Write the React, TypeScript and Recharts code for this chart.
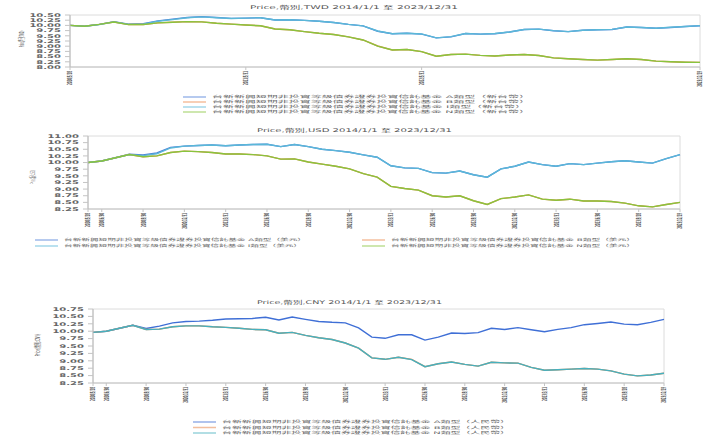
import React from "react";
import { LineChart, Line, XAxis, YAxis, ReferenceArea, Legend } from "recharts";

const dates = [
  "2020/5/28", "2020/6/30", "2020/7/31", "2020/8/31", "2020/9/30", "2020/10/30", "2020/11/30", "2020/12/31",
  "2021/1/29", "2021/2/26", "2021/3/31", "2021/4/30", "2021/5/31", "2021/6/30", "2021/7/30", "2021/8/31",
  "2021/9/30", "2021/10/29", "2021/11/30", "2021/12/30", "2022/1/28", "2022/2/25", "2022/3/31", "2022/4/29",
  "2022/5/31", "2022/6/30", "2022/7/29", "2022/8/31", "2022/9/30", "2022/10/31", "2022/11/30", "2022/12/30",
  "2023/1/31", "2023/2/24", "2023/3/31", "2023/4/28", "2023/5/31", "2023/6/30", "2023/7/31", "2023/8/31",
  "2023/9/28", "2023/10/31", "2023/11/30", "2023/12/29"
];

// 新台幣
const twdA = [10.00, 9.96, 10.05, 10.18, 10.06, 10.08, 10.22, 10.30, 10.38, 10.42, 10.38, 10.34, 10.35, 10.37, 10.26, 10.27, 10.24, 10.20, 10.14, 10.05, 9.98, 9.72, 9.60, 9.62, 9.58, 9.40, 9.45, 9.61, 9.58, 9.60, 9.68, 9.80, 9.82, 9.74, 9.70, 9.77, 9.79, 9.80, 9.92, 9.90, 9.86, 9.90, 9.95, 9.98];
const twdB = [10.00, 9.96, 10.05, 10.16, 10.04, 10.04, 10.12, 10.15, 10.18, 10.17, 10.10, 10.06, 10.02, 9.98, 9.83, 9.79, 9.70, 9.62, 9.56, 9.45, 9.30, 9.01, 8.82, 8.84, 8.74, 8.52, 8.60, 8.62, 8.56, 8.53, 8.58, 8.60, 8.55, 8.44, 8.40, 8.36, 8.33, 8.36, 8.40, 8.36, 8.28, 8.25, 8.23, 8.22];
const twdI = [10.00, 9.96, 10.04, 10.17, 10.05, 10.06, 10.20, 10.28, 10.37, 10.41, 10.37, 10.33, 10.35, 10.37, 10.26, 10.27, 10.24, 10.20, 10.14, 10.05, 9.98, 9.73, 9.60, 9.62, 9.59, 9.40, 9.46, 9.61, 9.58, 9.61, 9.68, 9.80, 9.82, 9.75, 9.70, 9.77, 9.79, 9.81, 9.92, 9.90, 9.86, 9.91, 9.95, 9.99];
const twdN = [10.00, 9.96, 10.05, 10.16, 10.04, 10.04, 10.12, 10.15, 10.18, 10.17, 10.10, 10.06, 10.02, 9.98, 9.83, 9.79, 9.70, 9.62, 9.56, 9.45, 9.30, 9.00, 8.82, 8.84, 8.74, 8.52, 8.60, 8.62, 8.56, 8.53, 8.58, 8.60, 8.55, 8.44, 8.40, 8.36, 8.33, 8.36, 8.40, 8.36, 8.28, 8.25, 8.23, 8.22];

// 美元
const usdA = [10.00, 10.06, 10.18, 10.31, 10.29, 10.36, 10.57, 10.62, 10.64, 10.66, 10.63, 10.66, 10.68, 10.69, 10.60, 10.68, 10.60, 10.50, 10.45, 10.39, 10.29, 10.20, 9.88, 9.80, 9.78, 9.62, 9.60, 9.68, 9.54, 9.45, 9.76, 9.86, 10.02, 9.92, 9.86, 9.96, 9.92, 9.98, 10.03, 10.07, 10.02, 9.98, 10.15, 10.30];
const usdB = [10.00, 10.06, 10.18, 10.30, 10.22, 10.25, 10.38, 10.43, 10.41, 10.38, 10.32, 10.32, 10.30, 10.25, 10.13, 10.14, 10.02, 9.94, 9.86, 9.76, 9.58, 9.45, 9.10, 9.02, 8.96, 8.75, 8.70, 8.75, 8.56, 8.42, 8.64, 8.70, 8.78, 8.62, 8.58, 8.62, 8.55, 8.55, 8.53, 8.47, 8.37, 8.33, 8.42, 8.50];
const usdI = [10.00, 10.06, 10.18, 10.30, 10.26, 10.33, 10.55, 10.62, 10.64, 10.66, 10.63, 10.66, 10.68, 10.69, 10.60, 10.68, 10.60, 10.50, 10.45, 10.39, 10.29, 10.20, 9.88, 9.80, 9.78, 9.62, 9.60, 9.68, 9.54, 9.45, 9.76, 9.86, 10.02, 9.92, 9.86, 9.96, 9.92, 9.98, 10.03, 10.07, 10.02, 9.98, 10.15, 10.30];
const usdN = [10.00, 10.06, 10.18, 10.30, 10.22, 10.25, 10.38, 10.43, 10.41, 10.38, 10.32, 10.32, 10.30, 10.25, 10.13, 10.14, 10.02, 9.94, 9.86, 9.76, 9.58, 9.45, 9.10, 9.02, 8.96, 8.75, 8.70, 8.75, 8.56, 8.42, 8.64, 8.70, 8.78, 8.62, 8.58, 8.62, 8.55, 8.55, 8.53, 8.47, 8.37, 8.33, 8.42, 8.50];

// 人民幣
const cnyA = [9.96, 10.00, 10.10, 10.20, 10.09, 10.17, 10.28, 10.33, 10.34, 10.37, 10.41, 10.42, 10.43, 10.47, 10.38, 10.48, 10.40, 10.33, 10.30, 10.28, 10.11, 9.80, 9.76, 9.88, 9.88, 9.70, 9.80, 9.94, 9.92, 9.95, 10.10, 10.06, 10.12, 10.05, 9.98, 10.06, 10.12, 10.22, 10.26, 10.31, 10.24, 10.22, 10.30, 10.40];
const cnyB = [9.96, 10.00, 10.10, 10.20, 10.06, 10.07, 10.15, 10.18, 10.18, 10.15, 10.13, 10.10, 10.06, 10.05, 9.93, 9.96, 9.86, 9.78, 9.72, 9.60, 9.43, 9.10, 9.05, 9.12, 9.05, 8.80, 8.90, 8.96, 8.88, 8.82, 8.95, 8.93, 8.92, 8.78, 8.68, 8.70, 8.72, 8.74, 8.72, 8.66, 8.55, 8.49, 8.52, 8.58];
const cnyN = [9.96, 10.00, 10.10, 10.20, 10.06, 10.07, 10.15, 10.18, 10.18, 10.15, 10.13, 10.10, 10.06, 10.05, 9.93, 9.96, 9.86, 9.78, 9.72, 9.60, 9.43, 9.10, 9.05, 9.12, 9.04, 8.80, 8.90, 8.96, 8.88, 8.82, 8.95, 8.93, 8.92, 8.78, 8.68, 8.70, 8.72, 8.74, 8.72, 8.66, 8.55, 8.49, 8.52, 8.58];

const twdXTicks = ["2020/5/28", "2021/5/31", "2022/5/31", "2023/12/29"];
const quarterXTicks = [
  "2020/5/28", "2020/6/30", "2020/9/30", "2020/12/31", "2021/3/31", "2021/6/30", "2021/9/30", "2021/12/30",
  "2022/3/31", "2022/6/30", "2022/9/30", "2022/12/30", "2023/3/31", "2023/6/30", "2023/9/28", "2023/12/29"
];
const twdYTicks = [8.0, 8.25, 8.5, 8.75, 9.0, 9.25, 9.5, 9.75, 10.0, 10.25, 10.5];
const usdYTicks = [8.25, 8.5, 8.75, 9.0, 9.25, 9.5, 9.75, 10.0, 10.25, 10.5, 10.75, 11.0];
const cnyYTicks = [8.25, 8.5, 8.75, 9.0, 9.25, 9.5, 9.75, 10.0, 10.25, 10.5, 10.75];

const fundName = "台新新興短期非投資等級債券證券投資信託基金";
const FONT = "'DejaVu Sans', 'Noto Sans CJK TC', sans-serif";

const twdData = dates.map((date, i) => ({ date, A: twdA[i], B: twdB[i], I: twdI[i], N: twdN[i] }));
const usdData = dates.map((date, i) => ({ date, A: usdA[i], B: usdB[i], I: usdI[i], N: usdN[i] }));
const cnyData = dates.map((date, i) => ({ date, A: cnyA[i], B: cnyB[i], N: cnyN[i] }));

const C = { A: "#4f7fd8", B: "#ec8a4e", I: "#5ab8d8", N: "#88c43e" };

type Item = { name: string; color: string; x: number; y: number; w: number };

// text squashed vertically, like the stretched source image
function Squash({ x, y, text, size, sy = 1, anchor = "start", rotate = false, fill = "#555", len, weight }: any) {
  const t = `translate(${x},${y}) scale(1,${sy})${rotate ? " rotate(-90)" : ""}`;
  return (
    <text
      transform={t}
      fontSize={size}
      fontFamily={FONT}
      textAnchor={anchor}
      fill={fill}
      fontWeight={weight}
      dy="0.35em"
      textLength={len}
      lengthAdjust={len ? "spacingAndGlyphs" : undefined}
    >
      {text}
    </text>
  );
}

const YTick = (props: any) => (
  <Squash x={props.x} y={props.y} text={Number(props.payload.value).toFixed(2)} size={10} sy={0.5} anchor="end" fill="#666" weight={600} />
);

const XTick = (props: any) => {
  const s = String(props.payload.value);
  return <Squash x={props.x} y={props.y} text={s} size={7} sy={0.36} anchor="end" rotate fill="#555" weight={600} />;
};

function LegendBox({ items, h }: { items: Item[]; h: number }) {
  return (
    <svg width={715} height={h} style={{ display: "block", overflow: "visible" }}>
      {items.map((it) => (
        <g key={it.name}>
          <line x1={it.x} x2={it.x + 23} y1={it.y} y2={it.y} stroke={it.color} strokeWidth={1.5} strokeOpacity={0.55} />
          <Squash x={it.x + 29} y={it.y} text={it.name} size={8} sy={0.45} fill="#666" len={it.w} />
        </g>
      ))}
    </svg>
  );
}

function Panel({ data, keys, colors, yDomain, yTicks, xTicks, top, height, margin, xHeight, legendItems, legendTop, legendH }: any) {
  return (
    <div style={{ position: "absolute", left: 0, top, width: 715, height }}>
      <LineChart width={715} height={height} data={data} margin={margin}>
        <XAxis
          dataKey="date"
          ticks={xTicks}
          interval={0}
          tick={<XTick />}
          tickSize={3}
          tickMargin={1}
          height={xHeight}
          axisLine={{ stroke: "#c4c4c4" }}
          tickLine={{ stroke: "#c4c4c4" }}
        />
        <YAxis
          type="number"
          domain={yDomain}
          ticks={yTicks}
          interval={0}
          tick={<YTick />}
          tickSize={5}
          tickMargin={4}
          width={40}
          axisLine={{ stroke: "#b8b8b8" }}
          tickLine={{ stroke: "#c4c4c4" }}
        />
        <ReferenceArea x1={dates[0]} x2={dates[dates.length - 1]} y1={yDomain[0]} y2={yDomain[1]} fill="none" stroke="#dcdcdc" />
        {keys.map((k: string) => (
          <Line key={k} type="linear" dataKey={k} stroke={colors[k]} strokeWidth={1.4} dot={false} isAnimationActive={false} />
        ))}
        <Legend
          layout="horizontal"
          verticalAlign="middle"
          align="center"
          wrapperStyle={{ left: 0, top: legendTop, width: 715, height: legendH }}
          content={() => <LegendBox items={legendItems} h={legendH} />}
        />
      </LineChart>
    </div>
  );
}

const twdLegend: Item[] = [
  { name: `${fundName} A類型（新台幣）`, color: C.A, x: 183, y: 7, w: 318 },
  { name: `${fundName} B類型（新台幣）`, color: C.B, x: 183, y: 12, w: 318 },
  { name: `${fundName} I類型（新台幣）`, color: C.I, x: 183, y: 17, w: 314 },
  { name: `${fundName} N類型（新台幣）`, color: C.N, x: 183, y: 22, w: 318 }
];
const usdLegend: Item[] = [
  { name: `${fundName} A類型（美元）`, color: C.A, x: 35, y: 7, w: 242 },
  { name: `${fundName} B類型（美元）`, color: C.B, x: 362, y: 7, w: 244 },
  { name: `${fundName} I類型（美元）`, color: C.I, x: 35, y: 13, w: 238 },
  { name: `${fundName} N類型（美元）`, color: C.N, x: 362, y: 13, w: 244 }
];
const cnyColors = { A: "#3f6fd6", B: "#e8894f", N: "#46b1bf" };
const cnyLegend: Item[] = [
  { name: `${fundName} A類型（人民幣）`, color: cnyColors.A, x: 193, y: 7, w: 288 },
  { name: `${fundName} B類型（人民幣）`, color: cnyColors.B, x: 193, y: 12.5, w: 288 },
  { name: `${fundName} N類型（人民幣）`, color: cnyColors.N, x: 193, y: 18, w: 288 }
];

export default function App() {
  return (
    <div style={{ position: "absolute", left: 0, top: 0, width: 715, height: 437, background: "#fff", overflow: "hidden" }}>
      <Panel
        data={twdData}
        keys={["A", "B", "I", "N"]}
        colors={C}
        yDomain={[8, 10.5]}
        yTicks={twdYTicks}
        xTicks={twdXTicks}
        top={0}
        height={120}
        margin={{ top: 15, right: 15, bottom: 35, left: 30 }}
        xHeight={18}
        legendItems={twdLegend}
        legendTop={90}
        legendH={30}
      />
      <Panel
        data={usdData}
        keys={["A", "B", "I", "N"]}
        colors={C}
        yDomain={[8.25, 11]}
        yTicks={usdYTicks}
        xTicks={quarterXTicks}
        top={120}
        height={135}
        margin={{ top: 16, right: 35, bottom: 24, left: 48 }}
        xHeight={22}
        legendItems={usdLegend}
        legendTop={113}
        legendH={22}
      />
      <Panel
        data={cnyData}
        keys={["A", "B", "N"]}
        colors={cnyColors}
        yDomain={[8.25, 10.75]}
        yTicks={cnyYTicks}
        xTicks={quarterXTicks}
        top={290}
        height={147}
        margin={{ top: 19, right: 51, bottom: 32, left: 53 }}
        xHeight={22}
        legendItems={cnyLegend}
        legendTop={125}
        legendH={22}
      />
      <svg width={715} height={437} style={{ position: "absolute", left: 0, top: 0, pointerEvents: "none" }}>
        <Squash x={250} y={7} text="Price,幣別,TWD 2014/1/1 至 2023/12/31" size={10} sy={0.5} fill="#555" len={208} />
        <Squash x={257} y={130} text="Price,幣別,USD 2014/1/1 至 2023/12/31" size={10} sy={0.5} fill="#555" len={195} />
        <Squash x={257} y={302} text="Price,幣別,CNY 2014/1/1 至 2023/12/31" size={10} sy={0.5} fill="#555" len={185} />
        <Squash x={22} y={39} text="Price(幣別:TWD)" size={7} sy={0.3} anchor="middle" rotate fill="#555" />
        <Squash x={33} y={177} text="Price(幣別:USD)" size={7} sy={0.25} anchor="middle" rotate fill="#555" />
        <Squash x={38} y={345} text="Price(幣別:CNY)" size={7} sy={0.42} anchor="middle" rotate fill="#555" />
      </svg>
    </div>
  );
}
